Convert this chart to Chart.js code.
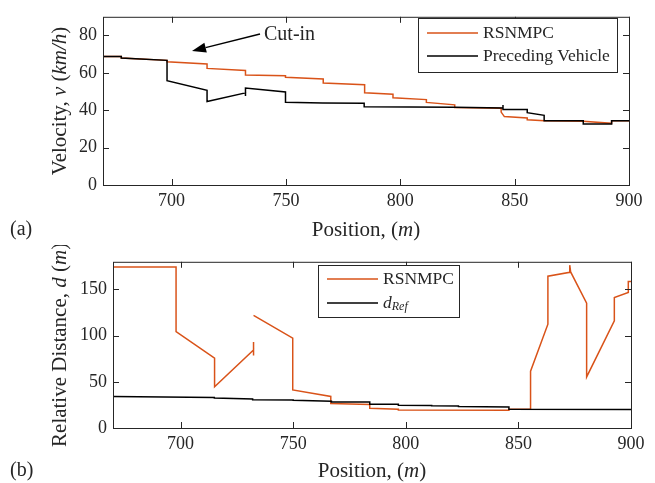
<!DOCTYPE html>
<html>
<head>
<meta charset="utf-8">
<script src="https://cdn.jsdelivr.net/npm/chart.js@4.4.1/dist/chart.umd.min.js"></script>
<style>
  html, body { margin: 0; padding: 0; background: #fff; }
  #wrap { position: relative; width: 655px; height: 483px; }
  canvas { position: absolute; left: 0; }
</style>
</head>
<body>
<div id="wrap">
  <canvas id="vel" width="655" height="245" style="top:0"></canvas>
  <canvas id="dist" width="655" height="238" style="top:245px"></canvas>
</div>
<script>
// ---- data ----
const xTicks = [700, 750, 800, 850, 900];
const velTicks = [0, 20, 40, 60, 80];
const distTicks = [0, 50, 100, 150];

// (a) velocity, km/h
const velPosRs = [670, 678, 678, 698, 698, 715.5, 715.5, 732.3, 732.3, 749.8, 749.8, 766.3, 766.3, 784.4, 784.4, 796.8, 796.8, 811.4, 811.4, 823.8, 823.8, 844.1, 844.1, 845.5, 855.5, 855.5, 863, 880, 892.4, 892.4, 900];
const velRs    = [68.7, 68.7, 67.9, 66.7, 65.9, 64.8, 62.4, 61.3, 58.8, 58.4, 57.6, 56.7, 54.6, 53.6, 49.3, 48.6, 46.7, 45.7, 44.2, 42.9, 41.4, 41.1, 39.0, 36.6, 35.9, 34.9, 34.4, 34.1, 33.0, 34.4, 34.4];

const velPosPv = [670, 678, 678, 698, 698, 715.5, 715.5, 732.3, 732.3, 732.3, 749.8, 749.8, 766, 784.2, 784.2, 823.8, 844.9, 844.9, 844.9, 855.5, 855.5, 862.9, 862.9, 880, 880, 892.4, 892.4, 900];
const velPv    = [68.7, 68.7, 67.9, 66.7, 55.8, 50.7, 44.7, 49.3, 47.6, 51.9, 49.8, 44.3, 43.9, 43.8, 41.9, 41.6, 41.2, 42.8, 40.4, 40.4, 38.7, 37.3, 34.4, 34.4, 32.6, 32.6, 34.4, 34.4];

// (b) relative distance, m
const distPosRs = [670, 698, 698, 715.1, 715.1, 732.4, 732.4, 732.4, 732.4, 732.4, 749.8, 749.8, 766.7, 766.7, 784, 784, 796.7, 796.7, 845.8, 845.8, 855.4, 855.4, 863.1, 863.1, 872.8, 872.8, 873.2, 880.3, 880.3, 892.6, 892.6, 898.8, 898.8, 900];
const distRs    = [174.5, 174.5, 104.4, 75.6, 44.7, 84.4, 78.4, 93.2, null, 121.9, 97.4, 41.3, 34.2, 26.5, 25.5, 21.3, 20.2, 19.5, 19.1, 20.2, 20.2, 61.6, 112.4, 164.4, 168.6, 176.3, 169.0, 135.3, 55.3, 116, 141.3, 146.8, 158.7, 158.7];

const distPosRef = [670, 715, 715, 732, 732, 750, 750, 767, 767, 784, 784, 796.7, 796.7, 811.5, 811.5, 823.4, 823.4, 845.8, 845.8, 900];
const distRef    = [34.2, 33.0, 32.4, 31.3, 30.7, 30.4, 30.0, 29.0, 28.2, 28.2, 25.8, 25.6, 24.7, 24.5, 24.0, 23.8, 23.3, 22.8, 20.2, 20.0];

// ---- styling ----
const INK = '#262626';
const ORANGE = '#D95319';
const SERIF = '"Liberation Serif", "Times New Roman", serif';
const TITLE = 21;

const pairs = (xs, ys) => xs.map((x, i) => ({ x: x, y: ys[i] }));

function fontOf(p) {
  return (p.italic ? 'italic ' : '') + (p.size || TITLE) + 'px ' + SERIF;
}

// draws a run of mixed upright / italic text
function rich(ctx, parts, x, y, align, rot) {
  ctx.save();
  ctx.translate(x, y);
  if (rot) ctx.rotate(rot);
  ctx.fillStyle = INK;
  ctx.textBaseline = 'middle';
  ctx.textAlign = 'left';
  let w = 0;
  parts.forEach(p => { ctx.font = fontOf(p); p.w = ctx.measureText(p.t).width; w += p.w; });
  let cx = align === 'center' ? -w / 2 : 0;
  parts.forEach(p => { ctx.font = fontOf(p); ctx.fillText(p.t, cx, p.dy || 0); cx += p.w; });
  ctx.restore();
}

function legendBox(ctx, box, rows) {
  ctx.save();
  ctx.fillStyle = '#fff';
  ctx.fillRect(box.x, box.y, box.w, box.h);
  ctx.strokeStyle = INK;
  ctx.lineWidth = 1;
  ctx.strokeRect(box.x + 0.5, box.y + 0.5, box.w, box.h);
  rows.forEach(r => {
    ctx.strokeStyle = r.color;
    ctx.lineWidth = 1.5;
    ctx.beginPath();
    ctx.moveTo(box.x + 9, r.y);
    ctx.lineTo(box.x + 60, r.y);
    ctx.stroke();
    rich(ctx, r.label, box.x + 65, r.y, 'left');
  });
  ctx.restore();
}

function frame(extra) {
  return {
    id: 'frame',
    afterDraw(chart) {
      const ctx = chart.ctx;
      const { left, right, top, bottom } = chart.chartArea;
      const xs = chart.scales.x, ys = chart.scales.y;
      ctx.save();
      ctx.strokeStyle = INK;
      ctx.lineWidth = 1;
      ctx.beginPath();
      xs.ticks.forEach(t => {
        const px = Math.round(xs.getPixelForValue(t.value)) + 0.5;
        ctx.moveTo(px, bottom); ctx.lineTo(px, bottom - 6);
        ctx.moveTo(px, top); ctx.lineTo(px, top + 6);
      });
      ys.ticks.forEach(t => {
        const py = Math.round(ys.getPixelForValue(t.value)) + 0.5;
        ctx.moveTo(left, py); ctx.lineTo(left + 6, py);
        ctx.moveTo(right, py); ctx.lineTo(right - 6, py);
      });
      ctx.stroke();
      ctx.strokeRect(left + 0.5, top + 0.5, right - left, bottom - top);
      ctx.restore();
      extra(ctx, chart);
    }
  };
}

function makeChart(id, datasets, yMin, yMax, yTicks, pad, yWidth, xHeight, extra) {
  const tickFont = { family: SERIF, size: 18 };
  return new Chart(document.getElementById(id), {
    type: 'scatter',
    data: { datasets: datasets },
    options: {
      responsive: false,
      animation: false,
      layout: { padding: pad },
      plugins: { legend: { display: false }, tooltip: { enabled: false } },
      elements: { point: { radius: 0 }, line: { tension: 0 } },
      scales: {
        x: {
          type: 'linear', min: 670, max: 900,
          afterBuildTicks: s => { s.ticks = xTicks.map(v => ({ value: v })); },
          afterFit: s => { s.height = xHeight; },
          grid: { display: false, drawTicks: false },
          border: { display: false },
          ticks: { font: tickFont, color: INK, padding: 5, maxRotation: 0, autoSkip: false }
        },
        y: {
          type: 'linear', min: yMin, max: yMax,
          afterBuildTicks: s => { s.ticks = yTicks.map(v => ({ value: v })); },
          afterFit: s => { s.width = yWidth; },
          grid: { display: false, drawTicks: false },
          border: { display: false },
          ticks: { font: tickFont, color: INK, padding: 6, autoSkip: false }
        }
      }
    },
    plugins: [frame(extra)]
  });
}

// (a) velocity
makeChart('vel', [
  { label: 'RSNMPC', data: pairs(velPosRs, velRs), showLine: true, borderColor: ORANGE, borderWidth: 1.5, order: 1 },
  { label: 'Preceding Vehicle', data: pairs(velPosPv, velPv), showLine: true, borderColor: '#000', borderWidth: 1.5, order: 0 }
], 0, 90, velTicks, { top: 10, right: 26, left: 0, bottom: 0 }, 103, 60, (ctx, chart) => {
  const { left, right, top, bottom } = chart.chartArea;
  rich(ctx, [{ t: 'Velocity, ' }, { t: 'v', italic: true }, { t: ' (' }, { t: 'km/h', italic: true }, { t: ')' }],
    60, (top + bottom) / 2, 'center', -Math.PI / 2);
  rich(ctx, [{ t: 'Position, ' }, { t: '(' }, { t: 'm', italic: true }, { t: ')' }], (left + right) / 2, 230, 'center');
  rich(ctx, [{ t: '(a)', size: 20 }], 10, 230, 'left');
  legendBox(ctx, { x: 418, y: 18, w: 199, h: 54 }, [
    { color: ORANGE, y: 33, label: [{ t: 'RSNMPC', size: 17.5 }] },
    { color: '#000', y: 56, label: [{ t: 'Preceding Vehicle', size: 17.5 }] }
  ]);
  // cut-in annotation
  rich(ctx, [{ t: 'Cut-in', size: 20 }], 264, 35, 'left');
  const x0 = 260, y0 = 34, x1 = 192, y1 = 51;
  const a = Math.atan2(y1 - y0, x1 - x0), L = 14, H = 5;
  const bx = x1 - L * Math.cos(a), by = y1 - L * Math.sin(a);
  ctx.save();
  ctx.strokeStyle = '#000'; ctx.fillStyle = '#000'; ctx.lineWidth = 1.5;
  ctx.beginPath(); ctx.moveTo(x0, y0); ctx.lineTo(bx, by); ctx.stroke();
  ctx.beginPath();
  ctx.moveTo(x1, y1);
  ctx.lineTo(bx + H * Math.sin(a), by - H * Math.cos(a));
  ctx.lineTo(bx - H * Math.sin(a), by + H * Math.cos(a));
  ctx.closePath(); ctx.fill();
  ctx.restore();
});

// (b) relative distance
makeChart('dist', [
  { label: 'RSNMPC', data: pairs(distPosRs, distRs), showLine: true, spanGaps: false, borderColor: ORANGE, borderWidth: 1.5, order: 1 },
  { label: 'dRef', data: pairs(distPosRef, distRef), showLine: true, borderColor: '#000', borderWidth: 1.5, order: 0 }
], 0, 180, distTicks, { top: 12, right: 24, left: 0, bottom: 0 }, 113, 55, (ctx, chart) => {
  const { left, right, top, bottom } = chart.chartArea;
  rich(ctx, [{ t: 'Relative Distance, ' }, { t: 'd', italic: true }, { t: ' (' }, { t: 'm', italic: true }, { t: ')' }],
    60, (top + bottom) / 2, 'center', -Math.PI / 2);
  rich(ctx, [{ t: 'Position, ' }, { t: '(' }, { t: 'm', italic: true }, { t: ')' }], (left + right) / 2, 226, 'center');
  rich(ctx, [{ t: '(b)', size: 20 }], 10, 226, 'left');
  legendBox(ctx, { x: 318, y: 20, w: 141, h: 52 }, [
    { color: ORANGE, y: 34, label: [{ t: 'RSNMPC', size: 17.5 }] },
    { color: '#000', y: 58, label: [{ t: 'd', italic: true, size: 17.5 }, { t: 'Ref', italic: true, size: 12, dy: 4 }] }
  ]);
});
</script>
</body>
</html>
